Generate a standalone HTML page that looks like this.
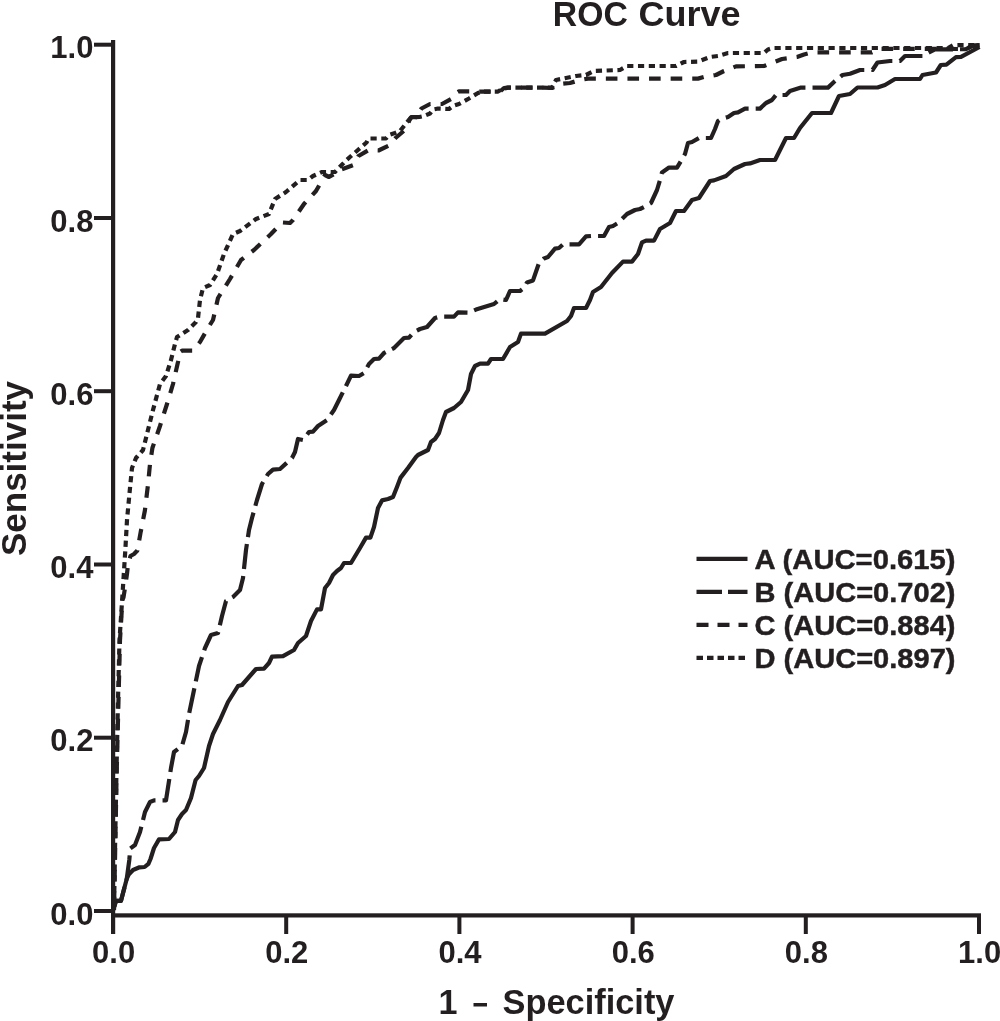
<!DOCTYPE html>
<html><head><meta charset="utf-8"><title>ROC Curve</title>
<style>
html,body{margin:0;padding:0;background:#fff;}
svg{display:block;will-change:transform;}
text{font-family:"Liberation Sans",sans-serif;font-weight:bold;fill:#231f20;}
.c{fill:none;stroke:#231f20;stroke-width:4.2;stroke-linejoin:round;stroke-linecap:butt;}
</style></head><body>
<svg width="1000" height="1021" viewBox="0 0 1000 1021">
<rect width="1000" height="1021" fill="#fff"/>

<rect x="111" y="40" width="4.2" height="894" fill="#231f20"/>
<rect x="111" y="913.3" width="870" height="4.2" fill="#231f20"/>
<rect x="94" y="909.0" width="18" height="4" fill="#231f20"/>
<text x="93.4" y="924.6" font-size="31" text-anchor="end">0.0</text>
<rect x="94" y="735.7" width="18" height="4" fill="#231f20"/>
<text x="93.4" y="751.3" font-size="31" text-anchor="end">0.2</text>
<rect x="94" y="562.5" width="18" height="4" fill="#231f20"/>
<text x="93.4" y="578.1" font-size="31" text-anchor="end">0.4</text>
<rect x="94" y="389.2" width="18" height="4" fill="#231f20"/>
<text x="93.4" y="404.8" font-size="31" text-anchor="end">0.6</text>
<rect x="94" y="216.0" width="18" height="4" fill="#231f20"/>
<text x="93.4" y="231.6" font-size="31" text-anchor="end">0.8</text>
<rect x="94" y="42.7" width="18" height="4" fill="#231f20"/>
<text x="93.4" y="58.3" font-size="31" text-anchor="end">1.0</text>
<text x="113.6" y="962.6" font-size="31" text-anchor="middle">0.0</text>
<rect x="284.2" y="915" width="4" height="19" fill="#231f20"/>
<text x="286.8" y="962.6" font-size="31" text-anchor="middle">0.2</text>
<rect x="457.4" y="915" width="4" height="19" fill="#231f20"/>
<text x="460.0" y="962.6" font-size="31" text-anchor="middle">0.4</text>
<rect x="630.6" y="915" width="4" height="19" fill="#231f20"/>
<text x="633.2" y="962.6" font-size="31" text-anchor="middle">0.6</text>
<rect x="803.8" y="915" width="4" height="19" fill="#231f20"/>
<text x="806.4" y="962.6" font-size="31" text-anchor="middle">0.8</text>
<rect x="977.0" y="915" width="4" height="19" fill="#231f20"/>
<text x="979.6" y="962.6" font-size="31" text-anchor="middle">1.0</text>
<text x="552.8" y="25.5" font-size="35.3" textLength="75" lengthAdjust="spacingAndGlyphs">ROC</text>
<text x="638.6" y="25.5" font-size="35.3" textLength="102" lengthAdjust="spacingAndGlyphs">Curve</text>
<text x="438.5" y="1014" font-size="35.3" textLength="19" lengthAdjust="spacingAndGlyphs">1</text>
<rect x="473.5" y="1003" width="13.5" height="3.5" fill="#231f20"/>
<text x="502.5" y="1014" font-size="35.3" textLength="172" lengthAdjust="spacingAndGlyphs">Specificity</text>
<text transform="translate(25.5 556) rotate(-90)" font-size="35.3" textLength="175" lengthAdjust="spacingAndGlyphs">Sensitivity</text>
<polyline class="c" points="113.5,910 115,904 116,900.8 121,900.8 126.7,879 128.7,874.6 133,870 139.5,867.3 144.6,867 148.4,863.8 150.5,859 154,848 159,839.4 169,839 175,832 178,820 182,814 186,810 191,798 195.6,780 199,776 204,768 209,746 213,734 220,720 228,702 238,686 242,685 256,669 264,668.6 269,663 272,656.6 283,656.2 294,650 298,643 306,636 311,621 317,609.4 321,609.4 325,588 329,583 333,575 337,571 341,568 344,563 351,563 360,548 366,537.6 370.4,537.6 374,527 378,508 382,500.4 388,499 393,497 397,487 400.6,477.6 408,468 416,457 418,455 428,450 431,442 435,439 439,433 443,420 446,412 454,408 461,402 468,390 471,374 475,366 480,363.6 488,363.6 491,359 503,359 510,347 518,342 521,333.6 545,333.6 567,321 571,316 574,308 586,308 590,300 593,292 601,287 612,273 623,261.6 632,261.6 638,254 642,242.4 646,240.6 654,240.6 660,229 670,223 676,211 684,211 692,200 699,198 710,181 714,180.4 726,176 734,169 745,164 750,163.4 760,160 775,160 786,138 794,138 800,128 812,113 831,113 839,96 850,94 857.5,87.5 877.5,87.5 885,85 895,79 920,79 922.5,75 936,72.5 940.8,65 946.4,64.6 956,57.2 961,56.8 979.5,47"/>
<polyline class="c" stroke-dasharray="25.1 7.065" stroke-dashoffset="-3.57" points="113.5,910 115,904 116,900.8 121,900.8 126.7,879 127.4,874 129.3,860 130.3,848.5 135,845 140,832 145,812 150,802 154,800.4 166,800.4 171,768 174,752 182,746 186,732 188,720 189,714 194,690 199,666 205,648 211,635 218,633 222,616 226,601 233,597 240,590 243,578 246,550 249,530 252,518 257,500 262,484 268,474 273,469.6 280,469 292,458 295,452 298,439 303,440 309,432 313,431.6 318,426 327,420 334,410 340,398 346,386 351,375.6 359,376 364,373 369,364 374,359 379,358.6 384,353 394,348 404,338 409,337.6 414,332 420,329 427,327 435,318 440,316.6 454,316.6 458,312.4 469,312.6 476,309.6 494,304 500,299 506,300 510,291 520,291 524,288 527,282.4 533,280.4 539,263 544,258.4 548,257 555,248.6 559,248 563,244.4 579,244.4 586,236.4 591,236 604,236 609,227 613,226 618,223 627,214 635,210 640,209 644,207 651,203 657,190 660,180 662,172.4 669,167.6 677,167.6 681,161 685,154 688,143 692,142 699,138 711,138 715,129 718,121 721,119 728,117 734,113 738,112.4 745,108.6 760,108.6 766,103 772,100 776,95 786,95 790,91 801,87.6 828,87.6 835,81 842.5,75 850,73.75 860,70 872.5,70 877.5,62.5 890,61 900,61 905,56 922.5,56 929,52.5 935,49.4 966,49.2 972,46 979.5,45.2"/>
<polyline class="c" stroke-dasharray="11.6 10" stroke-dashoffset="-7" points="114,910 115,860 116.5,780 118,720 120,640 122.4,600 123.5,597.5 125.3,585.8 127,574 128,564.6 130.5,556 134,554 137.4,550.5 140.5,533 144.9,510.5 148,484.7 150,464 152.4,448 160,426 167,404 173,384 178,362 180,352 182,350.6 193,350.6 200,342 208,328 213,320 218,298 230,279 241,260 254,250 271,234 282,222.4 290,223 293,220 304,204 316,191 325,175 329,177 336,173 340,170 353.5,165 358.5,156 368,150.5 378.5,150.5 389,145.5 395.5,138 406,129 409.5,120 411.5,117.2 419.5,117 420.5,110 421.5,108.5 430,104 442,104 451,99 456,93 459,91.3 482,91.6 500,91.6 504,88 508,87.6 540,87.6 552,88 560,84 570,83 580,80 588,78.6 698,78.6 704,77 716,75 724,71 736,66.4 764,66 777,61 782,59 797,57 804,54.5 812,52.4 872,52.4 880,48.8 966,49 972,46 979.5,45"/>
<polyline class="c" stroke-dasharray="6.2 4.6" stroke-dashoffset="-7" points="114,910 115,850 116.5,770 118,700 119.5,640 122.3,597.5 125.3,550.5 127,520 130,488 132,468 136,458 143,450 147,434 153,410 160,384 166,376 171,360 175,344 177,337 188,330 196,322 198,318 200,300 203,288 210,285 217,274 224,254 233,234 240,231 256,219 269,214 275,199 286,192 300,180 308,180 313,176 322,172 335,172 345.5,161 350.5,156.5 358.5,149.5 366.5,142.5 368.5,138.5 386,138.5 389,135 395,133 400,131 404,126 408,121 411,117.3 419.5,117 424,116 430,113.5 433,109.5 438,108.5 449,109 453,106 459,104 469,98.5 478,93 482,91.6 498,91.6 502,89 508,87.6 552,87.6 556,80 566,78 576,76 586,75 594,71 620,70 627,66 676,66 684,62 698,61.6 710,57 718,56 728,53 764,53 768,49.5 773,48 948,48 953,45.2 979.5,45"/>
<line class="c" x1="696.5" x2="747.5" y1="558.8" y2="558.8" stroke-width="4"/>
<text x="754.5" y="568.8" font-size="27.5" stroke="#231f20" stroke-width="0.45" textLength="201" lengthAdjust="spacingAndGlyphs">A (AUC=0.615)</text>
<line class="c" x1="696.5" x2="747.5" y1="591.8" y2="591.8" stroke-width="4" stroke-dasharray="25.5 6"/>
<text x="754.5" y="601.8" font-size="27.5" stroke="#231f20" stroke-width="0.45" textLength="201" lengthAdjust="spacingAndGlyphs">B (AUC=0.702)</text>
<line class="c" x1="696.5" x2="747.5" y1="624.8" y2="624.8" stroke-width="4" stroke-dasharray="12 9"/>
<text x="754.5" y="634.8" font-size="27.5" stroke="#231f20" stroke-width="0.45" textLength="201" lengthAdjust="spacingAndGlyphs">C (AUC=0.884)</text>
<line class="c" x1="696.5" x2="747.5" y1="657.8" y2="657.8" stroke-width="4" stroke-dasharray="6.5 4"/>
<text x="754.5" y="667.8" font-size="27.5" stroke="#231f20" stroke-width="0.45" textLength="201" lengthAdjust="spacingAndGlyphs">D (AUC=0.897)</text>
</svg></body></html>
